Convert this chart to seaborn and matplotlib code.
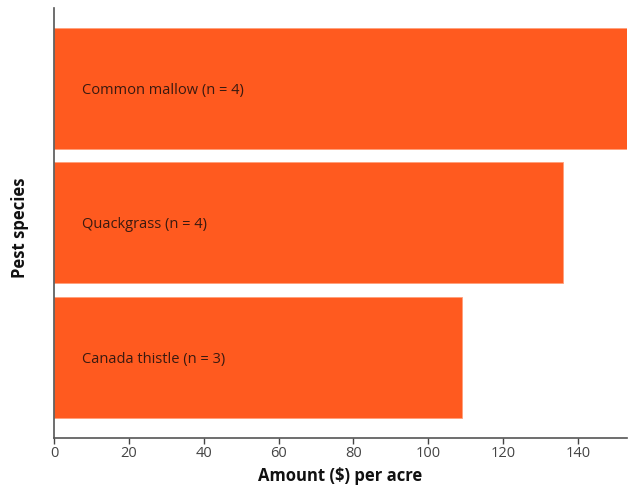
import matplotlib
matplotlib.use("Agg")
import matplotlib.pyplot as plt
import seaborn as sns
import pandas as pd

species = ["Common mallow", "Quackgrass", "Canada thistle"]
sample_sizes = [4, 4, 3]
amounts = [153, 136, 109]
x_ticks = [0, 20, 40, 60, 80, 100, 120, 140]

df = pd.DataFrame({"species": species, "amount": amounts})

sns.set_theme(style="white")
plt.rcParams["font.family"] = ["Open Sans", "DejaVu Sans"]

fig = plt.figure(figsize=(6.28, 4.86), dpi=100)
ax = fig.add_axes([0.086, 0.099, 0.912, 0.885])

sns.barplot(data=df, x="amount", y="species", orient="h", color="#FF5A1F",
            saturation=1, width=0.9, ax=ax, edgecolor="#FFA07A", linewidth=0.6)

for i, (name, n) in enumerate(zip(species, sample_sizes)):
    ax.text(7.5, i + 0.015, f"{name} (n = {n})", va="center", ha="left",
            fontsize=10.5, color="#3a1a10")

ax.set_xlim(0, amounts[0])
ax.set_ylim(2.6, -0.6)
ax.set_xticks(x_ticks)
ax.set_xticklabels([str(t) for t in x_ticks], fontsize=10.5, color="#444444")
ax.set_yticks([])
ax.tick_params(axis="x", length=4, width=1, color="#444444", pad=2,
               bottom=True, direction="out")
ax.set_xlabel("Amount ($) per acre", fontsize=12, fontweight="bold",
              color="#111111", labelpad=4)
ax.set_ylabel("Pest species", fontsize=12, fontweight="bold",
              color="#111111")
ax.yaxis.set_label_coords(-0.043, 0.488)

for side in ["top", "right"]:
    ax.spines[side].set_visible(False)
for side in ["left", "bottom"]:
    ax.spines[side].set_color("#555555")
    ax.spines[side].set_linewidth(1.2)

fig.savefig("out.png", dpi=100)
